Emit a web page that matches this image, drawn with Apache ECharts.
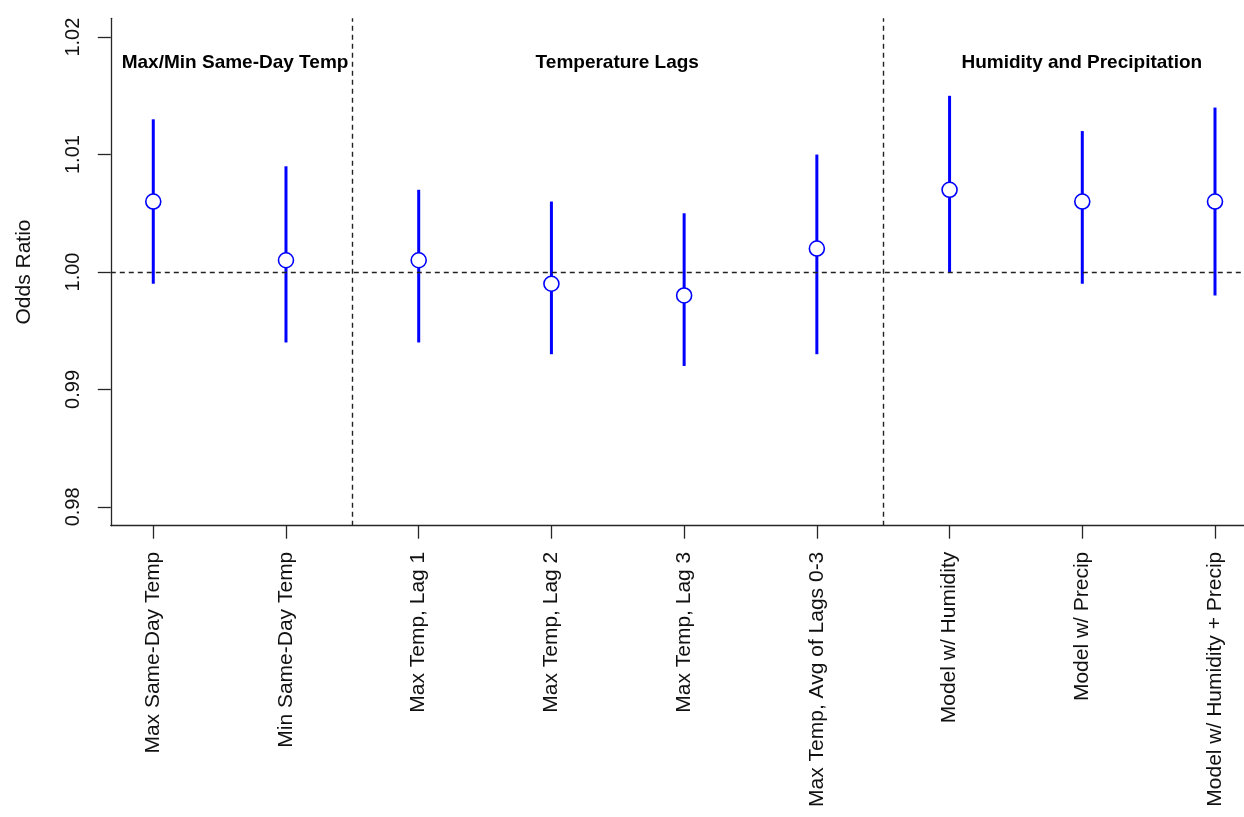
<!DOCTYPE html>
<html>
<head>
<meta charset="utf-8">
<script src="https://cdn.jsdelivr.net/npm/echarts@6/dist/echarts.min.js"></script>
<style>
html,body{margin:0;padding:0;background:#fff;}
#chart{width:1244px;height:817px;}
</style>
</head>
<body>
<div id="chart"></div>
<script>
// ---- data ----
var categories = [
  'Max Same-Day Temp',
  'Min Same-Day Temp',
  'Max Temp, Lag 1',
  'Max Temp, Lag 2',
  'Max Temp, Lag 3',
  'Max Temp, Avg of Lags 0-3',
  'Model w/ Humidity',
  'Model w/ Precip',
  'Model w/ Humidity + Precip'
];
var oddsRatio = [1.006, 1.001, 1.001, 0.999, 0.998, 1.002, 1.007, 1.006, 1.006];
var lowerCI   = [0.999, 0.994, 0.994, 0.993, 0.992, 0.993, 1.000, 0.999, 0.998];
var upperCI   = [1.013, 1.009, 1.007, 1.006, 1.005, 1.010, 1.015, 1.012, 1.014];
var yTicks = [0.98, 0.99, 1.00, 1.01, 1.02];
var groupBreaks = [2.5, 6.5];
var referenceValue = 1.00;
var groupTitles = ['Max/Min Same-Day Temp', 'Temperature Lags', 'Humidity and Precipitation'];
var groupTitleX = [1.62, 4.5, 8.0];
var groupTitleY = 1.0178;

// ---- build ----
var xTicks = categories.map(function (c, i) { return i + 1; });
var barData = categories.map(function (c, i) { return [i + 1, lowerCI[i], upperCI[i]]; });
var pointData = categories.map(function (c, i) { return [i + 1, oddsRatio[i]]; });
var titleData = groupTitles.map(function (t, i) { return [groupTitleX[i], groupTitleY, t]; });

var FONT = "'Liberation Sans', Arial, sans-serif";
var AX = '#262626';

var chart = echarts.init(document.getElementById('chart'), null, {renderer: 'canvas'});
chart.setOption({
  animation: false,
  backgroundColor: '#ffffff',
  grid: {left: 110.8, right: 0, top: 18.3, bottom: 291.3, containLabel: false},
  xAxis: {
    type: 'value',
    min: 0.68, max: 9.2185,
    splitLine: {show: false},
    axisLine: {show: true, onZero: false, lineStyle: {color: AX, width: 1.3}},
    axisTick: {show: true, customValues: xTicks, length: 13, lineStyle: {color: AX, width: 1.3}},
    axisLabel: {
      customValues: xTicks,
      rotate: 90, margin: 26,
      fontFamily: FONT, fontSize: 21, color: '#111',
      formatter: function (v) { return categories[Math.round(v) - 1] || ''; }
    }
  },
  yAxis: {
    type: 'value',
    min: 0.9784, max: 1.0216,
    name: 'Odds Ratio',
    nameLocation: 'middle',
    nameRotate: 90,
    nameGap: 76,
    nameTextStyle: {fontFamily: FONT, fontSize: 21, color: '#111'},
    splitLine: {show: false},
    axisLine: {show: true, lineStyle: {color: AX, width: 1.3}},
    axisTick: {show: true, customValues: yTicks, length: 13, lineStyle: {color: AX, width: 1.3}},
    axisLabel: {
      customValues: yTicks,
      rotate: 90, margin: 27,
      fontFamily: FONT, fontSize: 20, color: '#111',
      formatter: function (v) { return v.toFixed(2); }
    }
  },
  series: [
    {
      type: 'custom',
      name: 'ci',
      data: barData,
      encode: {x: 0, y: [1, 2]},
      z: 3,
      renderItem: function (params, api) {
        var p1 = api.coord([api.value(0), api.value(1)]);
        var p2 = api.coord([api.value(0), api.value(2)]);
        return {
          type: 'line',
          shape: {x1: p1[0], y1: p1[1], x2: p2[0], y2: p2[1]},
          style: {stroke: '#0000ff', lineWidth: 3}
        };
      },
      markLine: {
        silent: true,
        symbol: 'none',
        label: {show: false},
        lineStyle: {color: '#222', type: [5, 4], width: 1.4},
        data: [{yAxis: referenceValue}].concat(groupBreaks.map(function (b) { return {xAxis: b}; }))
      }
    },
    {
      type: 'scatter',
      name: 'or',
      data: pointData,
      symbol: 'circle',
      symbolSize: 15,
      z: 5,
      itemStyle: {color: '#ffffff', borderColor: '#0000ff', borderWidth: 1.6, opacity: 1}
    },
    {
      type: 'scatter',
      name: 'titles',
      data: titleData,
      symbolSize: 1,
      itemStyle: {opacity: 0},
      silent: true,
      label: {
        show: true,
        position: [0, 0],
        align: 'center',
        verticalAlign: 'middle',
        formatter: function (p) { return p.data[2]; },
        fontFamily: FONT, fontSize: 19, fontWeight: 'bold', color: '#000',
        textBorderWidth: 0, opacity: 1
      }
    }
  ]
});
</script>
</body>
</html>
